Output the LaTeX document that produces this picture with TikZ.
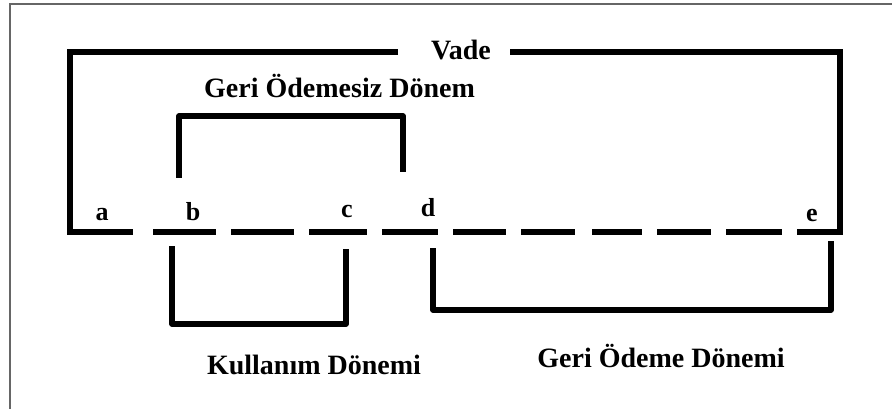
\documentclass[tikz,border=0pt]{standalone}
\usepackage{fontspec}
\setmainfont{Liberation Serif}
\begin{document}
\begin{tikzpicture}[x=1pt,y=-1pt,
  thick line/.style={line width=5.5pt,black},
  lbl/.style={font=\fontsize{28}{30}\selectfont\bfseries,inner sep=0pt,anchor=base},
  ltr/.style={font=\fontsize{26}{28}\selectfont\bfseries,inner sep=0pt,anchor=base}]
\useasboundingbox (0,0) rectangle (892,409);
\fill[white] (0,0) rectangle (892,409);
% page frame
\draw[line width=2pt,gray!80!black] (10,409) -- (10,4) -- (892,4);
% outer bracket (Vade)
\coordinate (vl) at (398,52);
\coordinate (vr) at (510,52);
\node[lbl] (vade) at (461,60) {Vade};
\draw[thick line] (vl) -- (70,52) -- (70,232) -- (133,232);
\draw[thick line] (vr) -- (840,52) -- (840,232) -- (797,232);
% dashed baseline
\foreach \a/\b in {153/216,231/294,309/367,382/438,453/506,521/575,592/642,657/711,726/782}
  \draw[thick line] (\a,232) -- (\b,232);
% point labels
\node[ltr] (a) at (102,220) {a};
\node[ltr] (b) at (193,220) {b};
\node[ltr] (c) at (347,217) {c};
\node[ltr] (d) at (428,216) {d};
\node[ltr] (e) at (812,221) {e};
% Geri Odemesiz Donem
\node[lbl] (god) at (339.5,97.5) {Geri Ödemesiz Dönem};
\coordinate (g1) at (179,178);
\coordinate (g2) at (403,172);
\draw[thick line,line join=round] (g1) -- (179,116) -- (403,116) -- (g2);
% Kullanim Donemi
\coordinate (k1) at (172,246);
\coordinate (k2) at (346,249);
\draw[thick line,line join=round] (k1) -- (172,324) -- (346,324) -- (k2);
\node[lbl] (kd) at (314,374) {Kullanım Dönemi};
% Geri Odeme Donemi
\coordinate (r1) at (433,248);
\coordinate (r2) at (831,241);
\draw[thick line,line join=round] (r1) -- (433,310) -- (831,310) -- (r2);
\node[lbl] (rd) at (661,367.5) {Geri Ödeme Dönemi};
\end{tikzpicture}
\end{document}
